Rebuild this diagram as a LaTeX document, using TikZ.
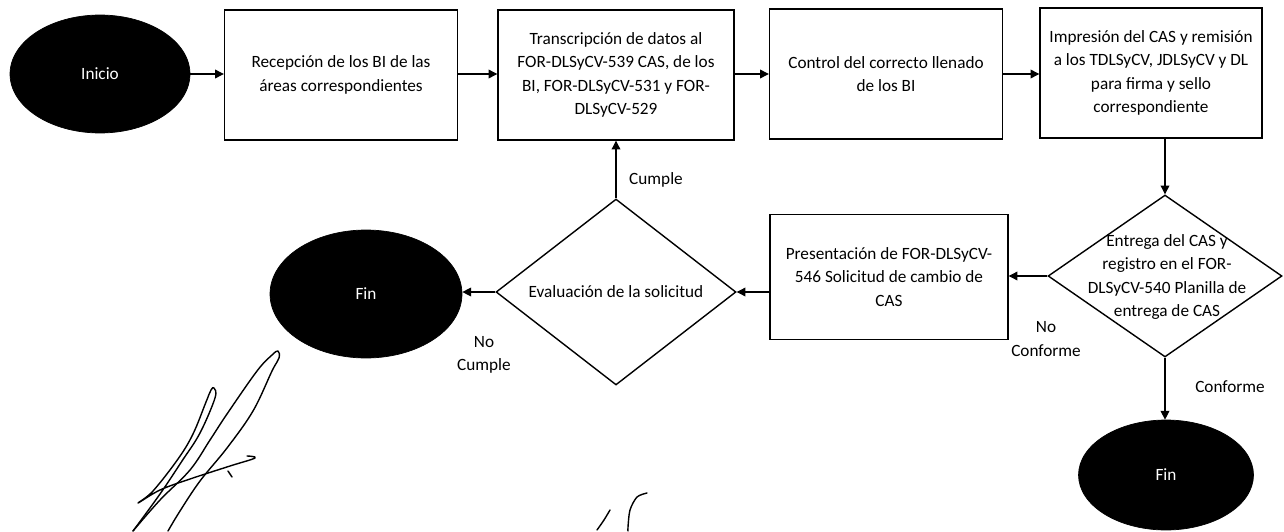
\documentclass[tikz,border=0pt]{standalone}
\usepackage{fontspec}
\setmainfont{Carlito}
\usetikzlibrary{shapes.geometric,arrows.meta}
\begin{document}
\begin{tikzpicture}[x=0.02cm,y=-0.02cm,
  font=\fontsize{9.8}{13.3}\selectfont,
  term/.style={ellipse, fill=black, draw=black, text=white, inner sep=0pt},
  proc/.style={rectangle, draw=black, line width=0.8pt, align=center, inner sep=0pt},
  dec/.style={diamond, draw=black, line width=0.8pt, inner sep=0pt},
  lbl/.style={align=center, inner sep=0pt},
  arr/.style={line width=0.6pt, -{Triangle[length=5pt,width=5pt]}},
  sig/.style={line width=0.8pt, line cap=round, line join=round}]
\useasboundingbox (0,0) rectangle (1284,531);

% top row
\node[term, minimum width=3.6cm, minimum height=2.36cm] (ini) at (100,74) {Inicio};
\node[proc, minimum width=4.66cm, minimum height=2.6cm] (b1) at (341,75) {Recepción de los BI de las\\áreas correspondientes};
\node[proc, minimum width=4.72cm, minimum height=2.6cm] (b2) at (616,75) {Transcripción de datos al\\FOR-DLSyCV-539 CAS, de los\\BI, FOR-DLSyCV-531 y FOR-\\DLSyCV-529};
\node[proc, minimum width=4.66cm, minimum height=2.6cm] (b3) at (886,74) {Control del correcto llenado\\de los BI};
\node[proc, minimum width=4.44cm, minimum height=2.6cm] (b4) at (1151,73) {Impresión del CAS y remisión\\a los TDLSyCV, JDLSyCV y DL\\para firma y sello\\correspondiente};

% second row
\node[dec, minimum width=4.68cm, minimum height=3.24cm] (d1) at (1165,276) {};
\node[lbl] (t1) at (1167,277) {Entrega del CAS y\\registro en el FOR-\\DLSyCV-540 Planilla de\\entrega de CAS};
\node[proc, minimum width=4.76cm, minimum height=2.5cm] (p) at (889,277) {Presentación de FOR-DLSyCV-\\546 Solicitud de cambio de\\CAS};
\node[dec, minimum width=4.8cm, minimum height=3.72cm] (d2) at (616,292) {};
\node[lbl] (t2) at (616,292) {Evaluación de la solicitud};
\node[term, minimum width=3.84cm, minimum height=2.56cm] (f1) at (366,294) {Fin};
\node[term, minimum width=3.5cm, minimum height=2.2cm] (f2) at (1166,475) {Fin};

% connectors
\draw[arr] (ini.east) -- (ini.east -| b1.west);
\draw[arr] (b1.east |- ini.east) -- (b2.west |- ini.east);
\draw[arr] (b2.east |- ini.east) -- (b3.west |- ini.east);
\draw[arr] (b3.east |- ini.east) -- (b4.west |- ini.east);
\draw[arr] (b4.south -| d1.north) -- (d1.north);
\draw[arr] (d1.west) -- (d1.west -| p.east);
\draw[arr] (p.west |- d2.east) -- (d2.east);
\draw[arr] (d2.west) -- (d2.west -| f1.east);
\draw[arr] (d2.north) -- (d2.north |- b2.south);
\draw[arr] (d1.south) -- (d1.south |- f2.north);

% labels
\node[lbl] (lc) at (656,180) {Cumple};
\node[lbl] (lnc) at (484,355) {No\\Cumple};
\node[lbl] (lnconf) at (1046,339) {No\\Conforme};
\node[lbl] (lconf) at (1230,387) {Conforme};

% signatures
\draw[sig] plot[smooth, tension=0.6] coordinates {(133,531) (160,500) (190,470) (210,440) (227,414) (257,371) (272,355) (278,351) (279,358) (272,371) (253,411) (227,448) (200,481) (180,511) (168,531)};
\draw[sig] plot[smooth, tension=0.6] coordinates {(247,456) (255,458) (230,466) (190,479) (160,490) (138,503) (153,491) (178,459) (193,434) (206,402) (211,390) (214,388) (215,398) (200,433) (182,461) (160,494) (133,531)};
\draw[sig] (228,471) -- (232,477);
\draw[sig] plot[smooth] coordinates {(597,530) (604,520) (610,510)};
\draw[sig] plot[smooth] coordinates {(647,493) (637,497) (630,510) (628,527) (628,531)};
\end{tikzpicture}
\end{document}
